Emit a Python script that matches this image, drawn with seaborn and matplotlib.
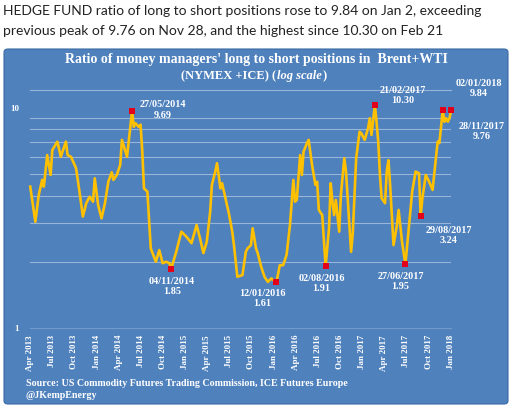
import pandas as pd
import matplotlib
matplotlib.use("Agg")
import matplotlib.pyplot as plt
from matplotlib.patches import FancyBboxPatch
from matplotlib.ticker import NullLocator
import seaborn as sns

# weekly COT readings (turning points)
dates = [
    "2013-04-02", "2013-04-23", "2013-05-07", "2013-05-21", "2013-05-28", "2013-06-11",
    "2013-06-25", "2013-07-02", "2013-07-23", "2013-08-06", "2013-08-27", "2013-09-03",
    "2013-09-17", "2013-10-08", "2013-10-22", "2013-11-05", "2013-11-19", "2013-12-03",
    "2013-12-17", "2013-12-24", "2014-01-07", "2014-01-21", "2014-02-04", "2014-02-18",
    "2014-03-04", "2014-03-11", "2014-03-25", "2014-04-08", "2014-04-15", "2014-05-06",
    "2014-05-20", "2014-05-27", "2014-06-03", "2014-06-10", "2014-06-24", "2014-07-01",
    "2014-07-08", "2014-07-15", "2014-07-29", "2014-08-12", "2014-09-02", "2014-09-16",
    "2014-09-30", "2014-10-14", "2014-10-28", "2014-11-04", "2014-11-11", "2014-11-25",
    "2014-12-16", "2015-01-06", "2015-01-27", "2015-02-17", "2015-03-03", "2015-03-17",
    "2015-03-31", "2015-04-14", "2015-04-21", "2015-05-05", "2015-05-12", "2015-05-19",
    "2015-05-26", "2015-06-02", "2015-06-16", "2015-06-30", "2015-07-14", "2015-07-21",
    "2015-08-04", "2015-08-25", "2015-09-08", "2015-09-15", "2015-09-29", "2015-10-06",
    "2015-10-20", "2015-10-27", "2015-11-10", "2015-11-24", "2015-12-08", "2015-12-22",
    "2016-01-12", "2016-01-26", "2016-02-09", "2016-02-23", "2016-03-08", "2016-03-22",
    "2016-03-29", "2016-04-05", "2016-04-19", "2016-04-26", "2016-05-03", "2016-05-17",
    "2016-05-24", "2016-06-07", "2016-06-21", "2016-06-28", "2016-07-05", "2016-07-19",
    "2016-08-02", "2016-08-16", "2016-08-23", "2016-08-30", "2016-09-06", "2016-09-13",
    "2016-09-27", "2016-10-04", "2016-10-18", "2016-10-25", "2016-11-08", "2016-11-15",
    "2016-11-22", "2016-12-06", "2016-12-20", "2016-12-27", "2017-01-10", "2017-01-24",
    "2017-01-31", "2017-02-07", "2017-02-21", "2017-02-28", "2017-03-07", "2017-03-14",
    "2017-03-21", "2017-04-04", "2017-04-11", "2017-04-18", "2017-04-25", "2017-05-09",
    "2017-05-23", "2017-05-30", "2017-06-13", "2017-06-27", "2017-07-11", "2017-07-25",
    "2017-08-08", "2017-08-22", "2017-08-29", "2017-09-05", "2017-09-19", "2017-10-03",
    "2017-10-17", "2017-10-31", "2017-11-07", "2017-11-14", "2017-11-28", "2017-12-05",
    "2017-12-12", "2017-12-19", "2017-12-26", "2018-01-02",
]
ratio = [
    4.39, 3.04, 4.02, 4.71, 4.39, 6.11,
    4.96, 6.44, 7.03, 6.00, 7.03, 6.11,
    6.00, 5.32, 4.17, 3.21, 3.69, 3.95,
    3.75, 4.79, 3.62, 3.15, 3.69, 4.62,
    5.10, 4.71, 4.96, 5.51, 7.16, 6.00,
    8.22, 9.69, 8.22, 8.52, 8.20, 8.40,
    6.33, 4.31, 4.17, 2.30, 2.00, 2.26,
    1.97, 2.00, 1.97, 1.85, 1.97, 2.22,
    2.74, 2.60, 2.43, 2.94, 2.56, 2.19,
    2.47, 3.38, 4.47, 5.14, 5.61, 4.96,
    4.31, 4.55, 3.89, 3.32, 2.74, 2.38,
    1.71, 1.74, 2.22, 2.30, 2.38, 2.84,
    2.30, 2.19, 1.90, 1.71, 1.62, 1.68,
    1.61, 1.93, 1.93, 2.15, 2.94, 4.71,
    3.75, 3.82, 6.11, 4.96, 6.33, 6.92,
    7.16, 5.51, 4.47, 4.62, 3.44, 3.26,
    1.91, 2.84, 4.55, 3.75, 3.26, 3.82,
    2.74, 4.02, 5.91, 5.14, 2.94, 2.22,
    2.70, 5.91, 7.80, 7.68, 7.16, 8.09,
    8.98, 7.54, 10.30, 8.66, 7.03, 4.96,
    3.89, 3.69, 5.14, 5.79, 4.47, 2.38,
    2.94, 3.44, 2.47, 1.95, 2.84, 4.17,
    5.14, 5.05, 3.24, 3.89, 4.96, 4.62,
    4.24, 5.91, 7.03, 6.92, 9.76, 8.66,
    8.98, 8.66, 9.00, 9.84,
]

peak_dates = ["2014-05-27", "2014-11-04", "2016-01-12", "2016-08-02", "2017-02-21",
              "2017-06-27", "2017-08-29", "2017-11-28", "2018-01-02"]
peak_values = [9.69, 1.85, 1.61, 1.91, 10.30, 1.95, 3.24, 9.76, 9.84]
peak_labels = ["27/05/2014\n9.69", "04/11/2014\n1.85", "12/01/2016\n1.61",
               "02/08/2016\n1.91", "21/02/2017\n10.30", "27/06/2017\n1.95",
               "29/08/2017\n3.24", "28/11/2017\n9.76", "02/01/2018\n9.84"]
# label offsets in pixels from the red marker
label_offsets = [(31, 1), (1, -17), (-14, -16), (-4, -17), (28, 10),
                 (-5, -17), (28, -20), (39, -21), (28, 21)]

tick_dates = pd.date_range("2013-04-01", "2018-01-01", freq="QS")
tick_labels = [d.strftime("%b %Y") for d in tick_dates]

W, H = 512, 409
BLUE = "#4F81BD"
SERIF = "Liberation Serif"

fig = plt.figure(figsize=(W / 100, H / 100), dpi=100)
fig.patch.set_facecolor("white")

# blue chart panel
panel = FancyBboxPatch((4 / W, 5 / H), 504 / W, 355 / H,
                       boxstyle="round,pad=0,rounding_size=0.008",
                       transform=fig.transFigure, facecolor=BLUE,
                       edgecolor="#3c6aa5", lw=0.8, zorder=-10)
fig.patches.append(panel)

# tweet text above the chart
fig.text(3 / W, 1 - 11 / H,
         "HEDGE FUND ratio of long to short positions rose to 9.84 on Jan 2, exceeding",
         fontsize=10, family="Lato", color="#222222", va="center")
fig.text(3 / W, 1 - 31 / H,
         "previous peak of 9.76 on Nov 28, and the highest since 10.30 on Feb 21",
         fontsize=10, family="Lato", color="#222222", va="center")

# chart titles
fig.text(0.5, 1 - 59 / H,
         "Ratio of money managers' long to short positions in  Brent+WTI",
         fontsize=10, family=SERIF, weight="bold", color="white",
         ha="center", va="center")
t1 = fig.text(181 / W, 1 - 76 / H, "(NYMEX +ICE) (", fontsize=9, family=SERIF,
              weight="bold", color="white", ha="left", va="center")
fig.canvas.draw()
bb = t1.get_window_extent()
t2 = fig.text(bb.x1 / W + 1 / W, 1 - 76 / H, "log scale", fontsize=9,
              family=SERIF, weight="bold", style="italic", color="white",
              ha="left", va="center")
fig.canvas.draw()
bb2 = t2.get_window_extent()
fig.text(bb2.x1 / W + 1 / W, 1 - 76 / H, ")", fontsize=9, family=SERIF,
         weight="bold", color="white", ha="left", va="center")

# source
fig.text(26 / W, 1 - 384 / H,
         "Source: US Commodity Futures Trading Commission, ICE Futures Europe",
         fontsize=7.2, family=SERIF, weight="bold", color="white", va="center")
fig.text(26 / W, 1 - 396 / H, "@JKempEnergy",
         fontsize=7.2, family=SERIF, weight="bold", color="white", va="center")

ax = fig.add_axes([30 / W, (H - 328) / H, 421 / W, 238 / H])
ax.set_facecolor("none")

x = pd.to_datetime(dates)
sns.lineplot(x=x, y=ratio, ax=ax, color="#FFC000", lw=1.9, clip_on=False, zorder=3)
sns.scatterplot(x=pd.to_datetime(peak_dates), y=peak_values, ax=ax, marker="s",
                s=15, color="#E3001B", linewidth=0, zorder=5, clip_on=False)

ax.set_yscale("log")
ax.set_ylim(1, 12.07)
ax.set_xlim(pd.Timestamp("2013-04-01"), pd.Timestamp("2018-01-01"))

for v in range(2, 10):
    ax.axhline(v, color="white", alpha=0.42, lw=0.8, zorder=1)
ax.axhline(12.07, color="white", alpha=0.42, lw=0.8, zorder=1, clip_on=False)
ax.axhline(1, color="white", alpha=0.2, lw=0.8, zorder=1, clip_on=False)

for d, v, lab, (dx, dy) in zip(peak_dates, peak_values, peak_labels, label_offsets):
    ax.annotate(lab, xy=(pd.Timestamp(d), v), xytext=(dx, dy),
                textcoords="offset pixels", ha="center", va="center",
                fontsize=7.3, family=SERIF, weight="bold", color="white",
                linespacing=1.15, annotation_clip=False, zorder=6)

ax.set_xticks(tick_dates)
ax.set_xticklabels(tick_labels, rotation=90, fontsize=6.5, family=SERIF,
                   weight="bold", color="white")
ax.set_yticks([1, 10])
ax.yaxis.set_minor_locator(NullLocator())
ax.set_yticklabels(["1", "10"], fontsize=6.5, family=SERIF, weight="bold",
                   color="white")
ax.tick_params(axis="both", length=0)
ax.tick_params(axis="x", pad=5)
ax.tick_params(axis="y", pad=8)
ax.set_xlabel("")
ax.set_ylabel("")
for s in ax.spines.values():
    s.set_visible(False)

fig.savefig("out.png", dpi=100)
